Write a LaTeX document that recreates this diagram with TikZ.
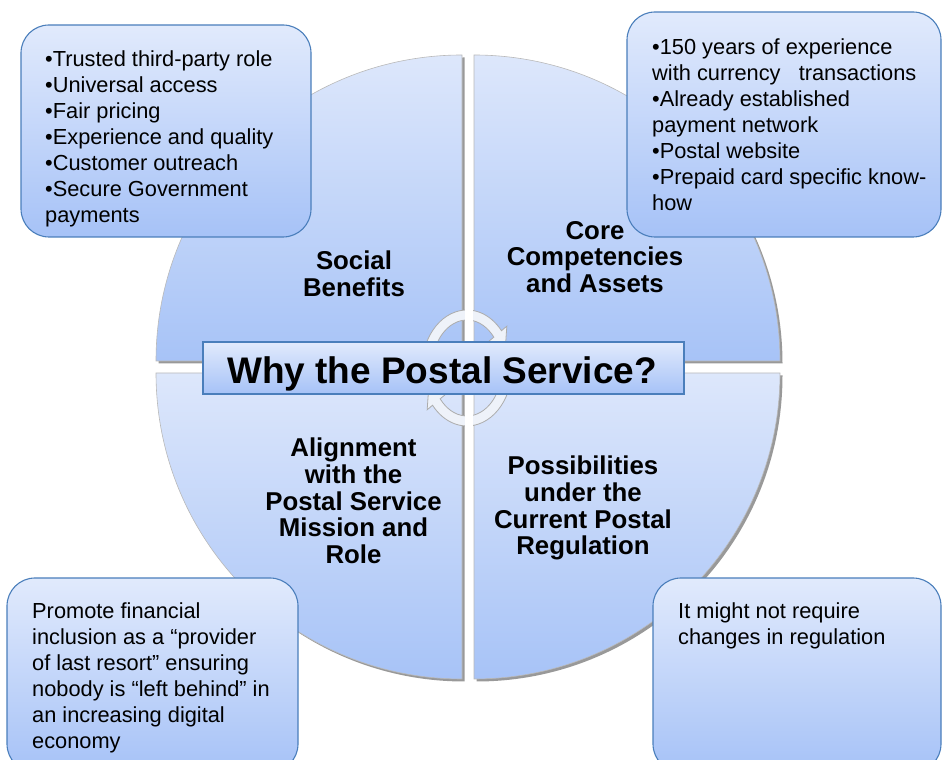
\documentclass[tikz,border=0pt]{standalone}
\usepackage{fontspec}
\setmainfont{Liberation Sans}
\definecolor{qtop}{HTML}{DDE7FB}
\definecolor{qbot}{HTML}{A7C3F7}
\definecolor{ctop}{HTML}{E1EAFC}
\definecolor{cbot}{HTML}{A6C2F7}
\definecolor{cborder}{HTML}{4A7EBB}
\definecolor{ringfill}{HTML}{EEF2F9}
\begin{document}
\begin{tikzpicture}[x=1pt,y=1pt,
  quad/.style={draw=gray!55, line width=0.6pt, shading=axis, top color=qtop, bottom color=qbot},
  shadowq/.style={fill=gray!80},
  ring/.style={fill=ringfill, draw=gray!65, line width=0.8pt},
  callout/.style={draw=cborder, line width=1.1pt, rounded corners=28pt, top color=ctop, bottom color=cbot},
  banner/.style={draw=cborder, line width=1.1pt, top color=ctop, bottom color=cbot},
  ctext/.style={font=\fontsize{21.8}{26}\selectfont, align=left, anchor=north west, inner sep=0pt},
  qlabel/.style={font=\bfseries\fontsize{25.8}{26.7}\selectfont, align=center, anchor=north, inner sep=0pt},
  title/.style={font=\bfseries\fontsize{37}{40}\selectfont, anchor=north, inner sep=0pt}
]
\useasboundingbox (0,0) rectangle (943,760);
\clip (0,0) rectangle (943,760);
% shadows of quadrants
\begin{scope}[shift={(2.5,-2.5)}]
\path[shadowq] (462,399) -- (156,399) arc[start angle=180, end angle=90, radius=306] -- cycle;
\path[shadowq] (474,399) -- (474,705) arc[start angle=90, end angle=0, radius=306] -- cycle;
\path[shadowq] (462,387) -- (462,81) arc[start angle=270, end angle=180, radius=306] -- cycle;
\path[shadowq] (474,387) -- (780,387) arc[start angle=0, end angle=-90, radius=306] -- cycle;
\end{scope}
% quadrants
\path[quad] (462,399) -- (156,399) arc[start angle=180, end angle=90, radius=306] -- cycle;
\path[quad] (474,399) -- (474,705) arc[start angle=90, end angle=0, radius=306] -- cycle;
\path[quad] (462,387) -- (462,81) arc[start angle=270, end angle=180, radius=306] -- cycle;
\path[quad] (474,387) -- (780,387) arc[start angle=0, end angle=-90, radius=306] -- cycle;
% circular arrow
\begin{scope}[shift={(467,392)}]
\path[ring] (195:45 and 58) arc[start angle=195, end angle=40, x radius=45, y radius=58]
  -- (40:52 and 65) -- (18:40 and 53) -- (40:28 and 41) -- (40:35 and 48)
  arc[start angle=40, end angle=195, x radius=35, y radius=48] -- cycle;
\path[ring] (15:45 and 58) arc[start angle=15, end angle=-140, x radius=45, y radius=58]
  -- (-140:52 and 65) -- (-162:40 and 53) -- (-140:28 and 41) -- (-140:35 and 48)
  arc[start angle=-140, end angle=15, x radius=35, y radius=48] -- cycle;
\end{scope}
\fill[white] (465,320) rectangle (473,465);
% central banner
\path[banner] (203,366) rectangle (684,418);
\node[title] (why) at (442,403.5) {Why the Postal Service?};
% quadrant labels
\node[qlabel] (social) at (354,509.1) {Social\\Benefits};
\node[qlabel] (core) at (595,539.1) {Core\\Competencies\\and Assets};
\node[qlabel] (align) at (353.5,322.1) {Alignment\\with the\\Postal Service\\Mission and\\Role};
\node[qlabel] (poss) at (583,304.1) {Possibilities\\under the\\Current Postal\\Regulation};
% callouts
\path[callout] (21,523) rectangle (311,735);
\path[callout] (627,523) rectangle (941,748);
\path[callout] (7,182) rectangle (298,-12);
\path[callout] (653,182) rectangle (941,-12);
\node[ctext] (tl) at (45,709.5) {•Trusted third-party role\\•Universal access\\•Fair pricing\\•Experience and quality\\•Customer outreach\\•Secure Government\\payments};
\node[ctext] (tr) at (652,721.5) {•150 years of experience\\with currency\ \ \ transactions\\•Already established\\payment network\\•Postal website\\•Prepaid card specific know-\\how};
\node[ctext] (bl) at (32,157.5) {Promote financial\\inclusion as a “provider\\of last resort” ensuring\\nobody is “left behind” in\\an increasing digital\\economy};
\node[ctext] (br) at (678,157.5) {It might not require\\changes in regulation};
\end{tikzpicture}
\end{document}
